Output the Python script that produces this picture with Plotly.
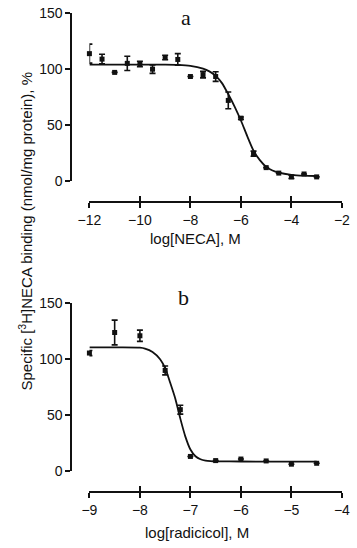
import plotly.graph_objects as go

W, H = 357, 548

# ---- data: panel a (NECA) ----
neca_x = [-12, -11.5, -11, -10.5, -10, -9.5, -9, -8.5, -8, -7.5, -7, -6.5, -6, -5.5, -5, -4.5, -4, -3.5, -3]
neca_y = [113.9, 109.0, 97.1, 105.2, 104.6, 100.0, 110.4, 108.7, 93.4, 95.1, 93.4, 72.0, 56.1, 24.3, 11.8, 6.9, 3.5, 6.1, 3.5]
neca_err = [8.5, 4.3, 0, 6.4, 2.5, 3.8, 2.0, 5.2, 0, 2.9, 4.3, 7.5, 1.0, 2.3, 0, 0, 1.5, 0, 0]
neca_fit_x = [-12, -11, -10, -9, -8.5, -8, -7.5, -7.25, -7, -6.75, -6.5, -6.25, -6, -5.75, -5.5, -5.25, -5, -4.75, -4.5, -4, -3.5, -3]
neca_fit_y = [104, 104, 104, 104, 103.8, 103, 100.5, 98, 94, 87.5, 77.5, 66.5, 54, 40, 27, 18.5, 12.5, 9.2, 7.3, 5.4, 4.6, 4.3]

# ---- data: panel b (radicicol) ----
rad_x = [-9, -8.5, -8, -7.5, -7.2, -7, -6.5, -6, -5.5, -5, -4.5]
rad_y = [105.5, 123.8, 120.9, 90.0, 55.0, 13.3, 9.6, 11.0, 9.3, 6.4, 7.2]
rad_err = [2.3, 11.0, 5.0, 4.0, 4.0, 0, 0, 0, 0, 0, 0]
rad_fit_x = [-9, -8.5, -8, -7.9, -7.75, -7.6, -7.5, -7.4, -7.3, -7.2, -7.1, -7.0, -6.9, -6.8, -6.7, -6.6, -6.5, -6, -5, -4.5]
rad_fit_y = [110.5, 110.5, 110.3, 109.5, 106.5, 100, 92, 79, 65, 47, 31, 19.5, 13.5, 10.8, 9.6, 9.1, 8.9, 8.8, 8.7, 8.7]

y_ticks = [0, 50, 100, 150]
a_ticks = [-12, -10, -8, -6, -4, -2]
b_ticks = [-9, -8, -7, -6, -5, -4]

FONT = "Liberation Sans, Arial, sans-serif"
BLACK = "#111111"


def px(x):
    return x / W


def py(y):
    return 1 - y / H


fig = go.Figure()

def add_panel(xs, ys, errs, fx, fy, xa, ya):
    fig.add_trace(go.Scatter(x=fx, y=fy, mode="lines", line=dict(color=BLACK, width=1.8, shape="spline", smoothing=0.7),
                             xaxis=xa, yaxis=ya, showlegend=False, hoverinfo="skip", cliponaxis=False))
    fig.add_trace(go.Scatter(x=xs, y=ys, mode="markers",
                             marker=dict(symbol="square", size=5, color=BLACK),
                             error_y=dict(type="data", array=errs, visible=True, color=BLACK, thickness=1.6, width=3),
                             xaxis=xa, yaxis=ya, showlegend=False, cliponaxis=False))

add_panel(neca_x, neca_y, neca_err, neca_fit_x, neca_fit_y, "x", "y")
add_panel(rad_x, rad_y, rad_err, rad_fit_x, rad_fit_y, "x2", "y2")
# dummy traces for the overlay tick axes (upward half of crossing ticks)
fig.add_trace(go.Scatter(x=[None], y=[None], xaxis="x3", yaxis="y", showlegend=False))
fig.add_trace(go.Scatter(x=[None], y=[None], xaxis="x4", yaxis="y2", showlegend=False))

xdom = [px(82), px(349.5)]
ypos_axis = px(63)

top_xline = py(200)
bot_xline = py(499)

common_x = dict(showgrid=False, zeroline=False, showline=True, linecolor=BLACK, linewidth=2,
                ticks="outside", ticklen=5, tickwidth=2, tickcolor=BLACK, ticklabeloverflow="allow",
                tickfont=dict(family=FONT, size=14, color=BLACK), domain=xdom, anchor="free")
common_y = dict(showgrid=False, zeroline=False, showline=True, linecolor=BLACK, linewidth=2,
                ticks="outside", ticklen=5, tickwidth=2, tickcolor=BLACK, tickvals=y_ticks,
                ticklabeloverflow="allow",
                tickfont=dict(family=FONT, size=14, color=BLACK), range=[0, 150],
                anchor="free", position=ypos_axis)
overlay_x = dict(showgrid=False, zeroline=False, showline=False, ticks="inside", ticklen=6, tickwidth=2,
                 tickcolor=BLACK, showticklabels=False, domain=xdom, anchor="free")

fig.update_layout(
    width=W, height=H,
    margin=dict(l=0, r=0, t=0, b=0),
    paper_bgcolor="white", plot_bgcolor="white",
    xaxis=dict(**common_x, range=[-12, -2], tickvals=a_ticks, position=top_xline),
    yaxis=dict(**common_y, domain=[py(178), py(5.5)]),
    xaxis2=dict(**common_x, range=[-9, -4], tickvals=b_ticks, position=bot_xline),
    yaxis2=dict(**common_y, domain=[py(477.3), py(304)]),
    xaxis3=dict(**overlay_x, range=[-12, -2], tickvals=a_ticks, position=top_xline, overlaying="x"),
    xaxis4=dict(**overlay_x, range=[-9, -4], tickvals=b_ticks, position=bot_xline, overlaying="x2"),
)

ann = [
    dict(text="a", x=px(184.5), y=py(9.5), font=dict(family="Liberation Serif, Times New Roman, serif", size=22, color=BLACK)),
    dict(text="b", x=px(181.5), y=py(298.5), font=dict(family="Liberation Serif, Times New Roman, serif", size=22, color=BLACK)),
    dict(text="log[NECA], M", x=px(194), y=py(237.5), font=dict(family=FONT, size=15, color=BLACK)),
    dict(text="log[radicicol], M", x=px(196), y=py(540), font=dict(family=FONT, size=15, color=BLACK)),
    dict(text="Specific [<sup>3</sup>H]NECA binding (nmol/mg protein), %", x=px(14), y=py(230), textangle=-90,
         font=dict(family=FONT, size=15, color=BLACK)),
]
for a in ann:
    fig.add_annotation(xref="paper", yref="paper", showarrow=False, xanchor="center", yanchor="middle", **a)

fig.write_html(
    "out.html",
    config={"displayModeBar": False},
    post_script="document.body.style.margin='0';document.body.style.padding='0';"
                "document.documentElement.style.overflow='hidden';document.body.style.overflow='hidden';",
)
